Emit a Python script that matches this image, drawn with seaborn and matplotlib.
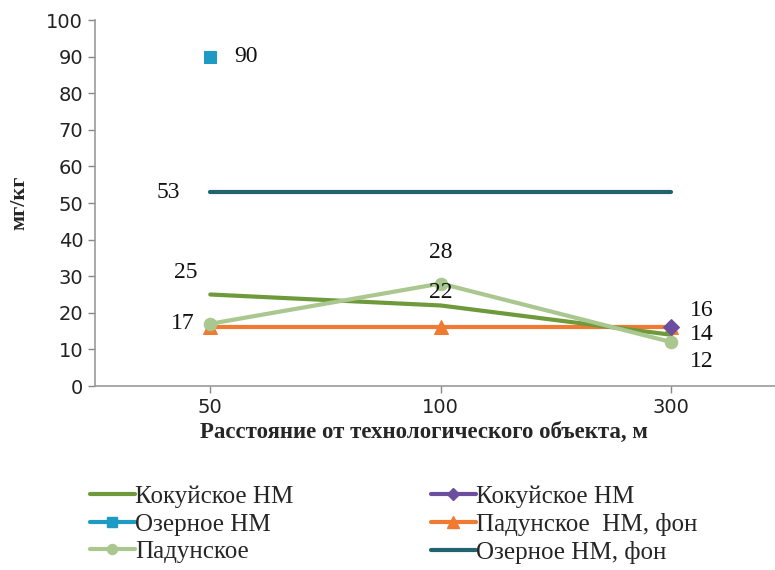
import matplotlib
matplotlib.use("Agg")
import matplotlib.pyplot as plt
import seaborn as sns
import pandas as pd
from matplotlib.lines import Line2D

# ---- data ----
distances = ["50", "100", "300"]
kokuy_line = [25, 22, 14]          # Кокуйское НМ (line)
kokuy_point = [None, None, 16]     # Кокуйское НМ (diamond)
ozernoe_point = [90, None, None]   # Озерное НМ
padun_bg = [16, 16, 16]            # Падунское НМ, фон
padun = [17, 28, 12]               # Падунское
ozernoe_bg = [53, 53, 53]          # Озерное НМ, фон
yticks = list(range(0, 101, 10))

sns.set_theme(style="white")
plt.rcParams['font.family'] = ['Liberation Serif', 'DejaVu Serif']

fig = plt.figure(figsize=(7.75, 5.7), dpi=100)
ax = fig.add_axes([0.1226, 0.3228, 0.8774, 0.6421])

def frame(vals):
    return pd.DataFrame({"x": distances, "y": vals}).dropna()

c_green = "#6E9A3C"
c_light = "#A9C78E"
c_orange = "#F07A32"
c_teal = "#23636F"
c_blue = "#1E9AC3"
c_purple = "#6C4E9E"

series = [
    ("Кокуйское НМ", kokuy_line, dict(color=c_green, lw=3, marker=None)),
    ("Озерное НМ", ozernoe_point, dict(color=c_blue, lw=3, marker="s", markersize=9)),
    ("Падунское", padun, dict(color=c_light, lw=3, marker="o", markersize=9)),
    ("Кокуйское НМ", kokuy_point, dict(color=c_purple, lw=3, marker="D", markersize=8)),
    ("Падунское  НМ, фон", padun_bg, dict(color=c_orange, lw=3, marker="^", markersize=10)),
    ("Озерное НМ, фон", ozernoe_bg, dict(color=c_teal, lw=3, marker=None)),
]

order = [5, 4, 0, 2, 3, 1]
for i in order:
    name, vals, kw = series[i]
    d = frame(vals)
    sns.lineplot(data=d, x="x", y="y", ax=ax, sort=False,
                 color=kw["color"], lw=kw["lw"], marker=kw["marker"],
                 markersize=kw.get("markersize", 0), markeredgecolor=kw["color"],
                 legend=False)

ax.set_xlim(-0.5, 2.45)
ax.set_ylim(0, 100)
ax.set_yticks(yticks)
ax.set_xticks(range(len(distances)))
ax.set_xticklabels(distances)
for lab in ax.get_xticklabels() + ax.get_yticklabels():
    lab.set_fontfamily(['DejaVu Sans'])
    lab.set_fontsize(14)
    lab.set_color("#222222")
ax.tick_params(axis="both", length=5, width=1, color="#888888", direction="out",
               left=True, bottom=True)
for s in ["top", "right"]:
    ax.spines[s].set_visible(False)
for s in ["left", "bottom"]:
    ax.spines[s].set_color("#999999")
    ax.spines[s].set_linewidth(1.2)

ax.set_ylabel("мг/кг", fontsize=16, fontweight="bold", labelpad=12)
ax.set_xlabel("Расстояние от технологического объекта, м", fontsize=16.5,
              fontweight="bold")
ax.xaxis.set_label_coords(0.484, -0.126)
ax.xaxis.label.set_va("center")

def label(xi, v, dx, dy):
    ax.annotate(str(v), (xi, v), xytext=(dx, dy), textcoords="offset points",
                ha="center", va="center", fontsize=17, color="#111111")

label(0, kokuy_line[0], -18, 16)
label(0, padun[0], -20, 0)
label(1, padun[1], 0, 22)
label(1, kokuy_line[1], 0, 9)
label(2, kokuy_point[2], 22, 12)
label(2, kokuy_line[2], 22, 0)
label(2, padun[2], 22, -14)
label(0, ozernoe_bg[0], -30, 0)
label(0, ozernoe_point[0], 26, 0)

handles = []
for name, vals, kw in series:
    handles.append(Line2D([], [], color=kw["color"], lw=3, marker=kw["marker"],
                          markersize=kw.get("markersize", 0) * 0.8,
                          markeredgecolor=kw["color"], label=name))
fig.legend(handles=handles, loc="upper left", bbox_to_anchor=(0.116, 0.148),
           ncol=2, frameon=False, fontsize=18, handlelength=1.8,
           handletextpad=0.0, columnspacing=5.5, labelspacing=0.2,
           borderpad=0, borderaxespad=0)

fig.savefig("out.png", dpi=100)
